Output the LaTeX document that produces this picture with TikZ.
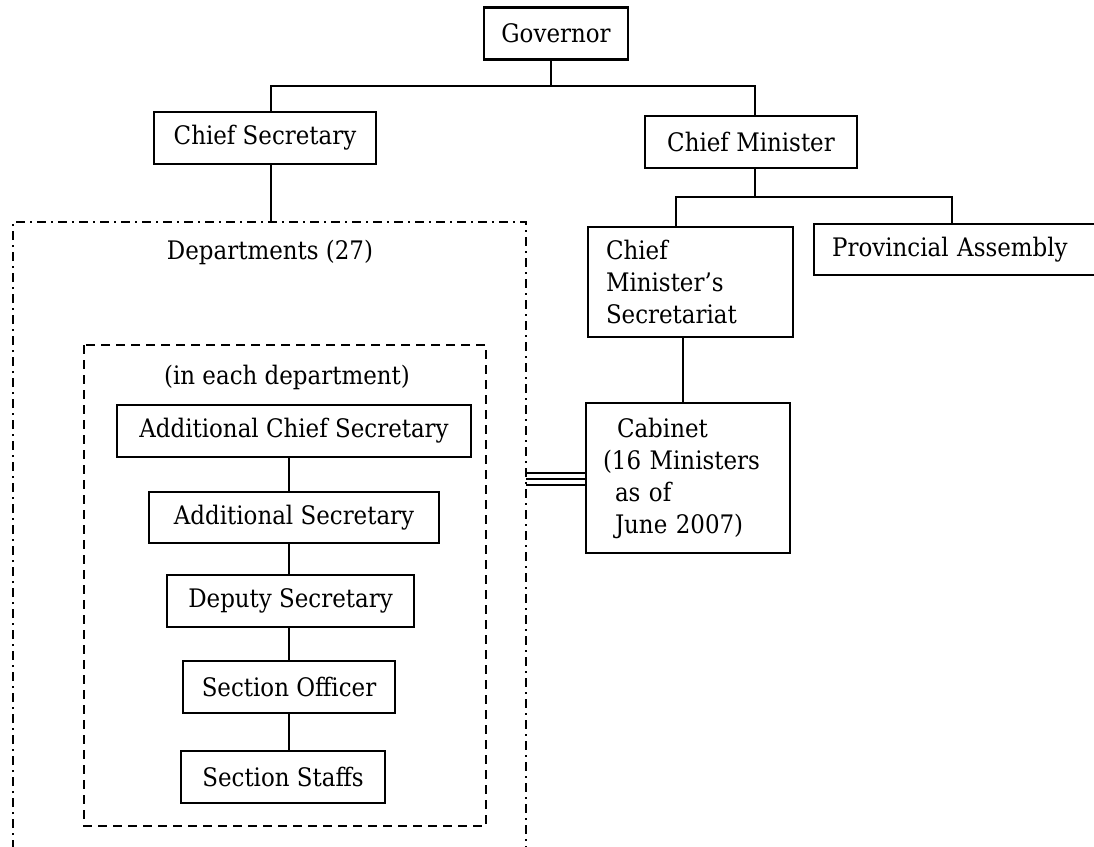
\documentclass[tikz,border=0pt]{standalone}
\usepackage{fontspec}
\setmainfont{DejaVu Serif}[FakeStretch=0.9]
\usetikzlibrary{calc}
\begin{document}
\begin{tikzpicture}[x=1pt,y=-1pt,
  every node/.style={font=\fontsize{25.5}{32}\selectfont},
  orgbox/.style={draw, line width=2.3pt, inner sep=0pt, minimum height=52pt, align=center},
  link/.style={line width=2pt},
  deptframe/.style={line width=2.2pt, dash pattern=on 9pt off 5pt on 2pt off 5pt},
  unitframe/.style={line width=2.2pt, dash pattern=on 9pt off 6pt},
  lbl/.style={inner sep=0pt}]
\clip (0,0) rectangle (1094,846);
\fill[white] (0,0) rectangle (1094,846);

% top level
\node[orgbox, minimum width=144pt] (gov) at (556,33.5) {Governor};
\node[orgbox, minimum width=222pt] (cs) at (265,138) {Chief Secretary};
\node[orgbox, minimum width=212pt] (cm) at (751,142) {Chief Minister};

\coordinate (busL) at (271,86);
\coordinate (busM) at (551,86);
\coordinate (busR) at (755,86);
\draw[link] (gov.south -| busM) -- (busM);
\draw[link] (cs.north -| busL) -- (busL) -- (busR) -- (cm.north -| busR);

% departments frame (open below)
\coordinate (deptNW) at (13,222);
\coordinate (deptNE) at (526,222);
\draw[deptframe] (13,870) -- (deptNW) -- (deptNE) -- (526,870);
\draw[link] (cs.south -| busL) -- (busL |- deptNW);
\node[lbl] (deps) at (270,252) {Departments (27)};

% posts inside each department
\draw[unitframe] (84,345) rectangle (486,826);
\node[lbl] (each) at (287,377) {(in each department)};
\node[orgbox, minimum width=354pt] (acs) at (294,431) {Additional Chief Secretary};
\node[orgbox, minimum width=290pt, minimum height=51pt] (asec) at (294,517.5) {Additional Secretary};
\node[orgbox, minimum width=247pt] (dsec) at (290.5,601) {Deputy Secretary};
\node[orgbox, minimum width=212pt] (so) at (289,687) {Section Officer};
\node[orgbox, minimum width=204pt] (ss) at (283,777) {Section Staffs};
\coordinate (chain) at (289,0);
\draw[link] (acs.south -| chain) -- (asec.north -| chain);
\draw[link] (asec.south -| chain) -- (dsec.north -| chain);
\draw[link] (dsec.south -| chain) -- (so.north -| chain);
\draw[link] (so.south -| chain) -- (ss.north -| chain);

% chief minister's side
\node[orgbox, minimum width=205pt, minimum height=110pt, text width=169pt, align=left, inner xsep=18pt]
  (cms) at (690.5,282) {Chief\\Minister’s\\Secretariat};
\node[orgbox, anchor=west, minimum height=51pt, text width=290pt, align=left, inner xsep=18pt]
  (pa) at (813,249.5) {Provincial Assembly};
\coordinate (cmbus) at (755,197);
\coordinate (bus2L) at (676,197);
\coordinate (bus2R) at (952,197);
\draw[link] (cm.south -| cmbus) -- (cmbus);
\draw[link] (cms.north -| bus2L) -- (bus2L) -- (bus2R) -- (pa.north -| bus2R);

\node[orgbox, minimum width=204pt, minimum height=150pt, text width=170pt, align=left, inner xsep=17pt]
  (cab) at (688,478) {\hspace*{14pt}Cabinet\\(16 Ministers\\\hspace*{12pt}as of\\\hspace*{12pt}June 2007)};
\coordinate (cabx) at (683,0);
\draw[link] (cms.south -| cabx) -- (cab.north -| cabx);

% triple link between departments and cabinet
\coordinate (deptE) at (526,479);
\foreach \d in {-6,0,6}
  \draw[line width=2.2pt] ($(deptE)+(0,\d)$) -- ($(cab.west |- deptE)+(0,\d)$);
\end{tikzpicture}
\end{document}
